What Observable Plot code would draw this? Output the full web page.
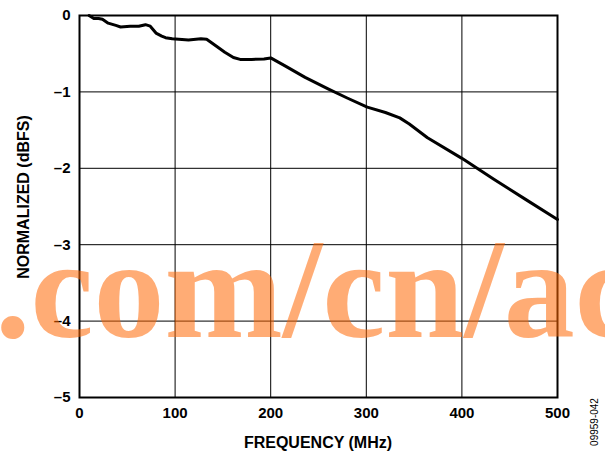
<!DOCTYPE html>
<html>
<head>
<meta charset="utf-8">
<script src="https://cdn.jsdelivr.net/npm/d3@7"></script>
<script src="https://cdn.jsdelivr.net/npm/@observablehq/plot@0.6"></script>
<style>
  html, body { margin: 0; padding: 0; background: #fff; }
  #chart svg { display: block; }
</style>
</head>
<body>
<div id="chart"></div>
<script>
// Frequency (MHz) and normalized response (dBFS)
const freq = [10, 15, 20, 24, 30, 38, 43, 53, 62, 69, 74, 80, 86, 90, 97, 114, 127, 133, 144, 152, 161, 168, 180, 193, 200, 215, 236, 260, 280, 301, 320, 335, 345, 364, 400, 433, 467, 500];
const gain = [0, -0.04, -0.04, -0.05, -0.1, -0.13, -0.15, -0.14, -0.14, -0.12, -0.14, -0.23, -0.27, -0.29, -0.305, -0.32, -0.305, -0.31, -0.41, -0.48, -0.55, -0.575, -0.575, -0.57, -0.555, -0.66, -0.81, -0.96, -1.08, -1.2, -1.27, -1.34, -1.42, -1.6, -1.87, -2.14, -2.41, -2.67];
const xTicks = [0, 100, 200, 300, 400, 500];
const yTicks = [0, -1, -2, -3, -4, -5];
const xLabel = "FREQUENCY (MHz)";
const yLabel = "NORMALIZED (dBFS)";
const figureCode = "09959-042";
const watermark = ".com/cn/ac";

const data = freq.map((f, i) => ({f, g: gain[i]}));
const fmtY = d => d < 0 ? "\u2013" + Math.abs(d) : String(d);

const chart = Plot.plot({
  width: 605,
  height: 453,
  marginLeft: 79,
  marginRight: 48,
  marginTop: 15,
  marginBottom: 56,
  style: "font-family: 'Liberation Sans', Arial, sans-serif; font-size: 15px; font-weight: bold; background: #fff; overflow: visible; color: #000;",
  x: {domain: [0, 500]},
  y: {domain: [-5, 0]},
  marks: [
    Plot.gridX(xTicks, {stroke: "#000", strokeOpacity: 1, strokeWidth: 1}),
    Plot.gridY(yTicks, {stroke: "#000", strokeOpacity: 1, strokeWidth: 1}),
    Plot.line(data, {x: "f", y: "g", stroke: "#000", strokeWidth: 3, strokeLinejoin: "round"}),
    Plot.frame({stroke: "#000", strokeWidth: 2}),
    Plot.axisX(xTicks, {tickSize: 0, tickPadding: 10, label: null, fontSize: 15, fontWeight: "bold"}),
    Plot.axisY(yTicks, {tickSize: 0, tickPadding: 9, tickFormat: fmtY, label: null, fontSize: 15, fontWeight: "bold"})
  ]
});

const svg = d3.select(chart);
// axis titles
svg.append("text")
  .attr("x", 318).attr("y", 448)
  .attr("text-anchor", "middle")
  .attr("font-size", 16).attr("font-weight", "bold")
  .attr("fill", "#000")
  .text(xLabel);
svg.append("text")
  .attr("transform", "translate(29,197) rotate(-90)")
  .attr("text-anchor", "middle")
  .attr("font-size", 16).attr("font-weight", "bold")
  .attr("fill", "#000")
  .text(yLabel);
svg.append("text")
  .attr("transform", "translate(598,422) rotate(-90)")
  .attr("text-anchor", "middle")
  .attr("font-size", 10).attr("font-weight", "normal")
  .attr("fill", "#000")
  .text(figureCode);
// watermark
svg.append("text")
  .attr("x", -5).attr("y", 337)
  .attr("text-anchor", "start")
  .attr("font-family", "'Liberation Serif', 'Times New Roman', serif")
  .attr("font-size", 142).attr("font-weight", "bold")
  .attr("fill", "#ff6600").attr("fill-opacity", 0.54)
  .text(watermark);

document.getElementById("chart").appendChild(chart);
</script>
</body>
</html>
